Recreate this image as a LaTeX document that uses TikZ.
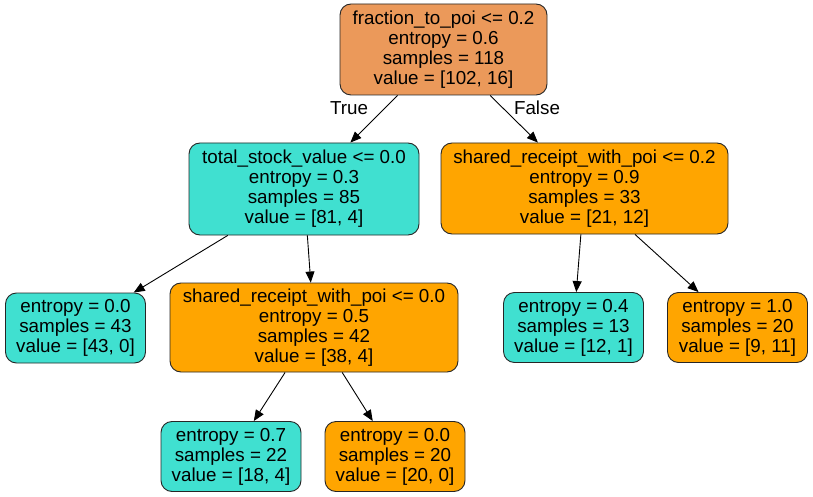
\documentclass[tikz,border=0pt]{standalone}
\usepackage{fontspec}
\setmainfont{Liberation Sans}
\usetikzlibrary{arrows.meta}
\definecolor{rootfill}{RGB}{235,153,90}
\definecolor{turq}{RGB}{64,224,208}
\definecolor{orng}{RGB}{255,165,0}
\begin{document}
\begin{tikzpicture}[x=1pt,y=-1pt,
  box/.style={draw=black!85, line width=0.9pt, rounded corners=11pt, inner sep=0pt,
    align=center, font=\fontsize{18.8}{20}\selectfont},
  leaf/.style={box, minimum width=140pt, minimum height=70pt},
  edge/.style={draw, line width=0.9pt, -{Triangle[length=11pt,width=9pt]}},
  lab/.style={font=\fontsize{18.8}{20}\selectfont, inner sep=0pt, anchor=base}
]
\useasboundingbox (0,0) rectangle (813,497);
\node[box, fill=rootfill, minimum width=207pt, minimum height=91pt] (root) at (443.5,49.5)
  {fraction\_to\_poi <= 0.2\\entropy = 0.6\\samples = 118\\value = [102, 16]};
\node[box, fill=turq, minimum width=230pt, minimum height=92pt] (l1) at (304,189)
  {total\_stock\_value <= 0.0\\entropy = 0.3\\samples = 85\\value = [81, 4]};
\node[box, fill=orng, minimum width=287pt, minimum height=91pt] (r1) at (584.5,188.5)
  {shared\_receipt\_with\_poi <= 0.2\\entropy = 0.9\\samples = 33\\value = [21, 12]};
\node[leaf, fill=turq] (ll) at (75.5,328)
  {entropy = 0.0\\samples = 43\\value = [43, 0]};
\node[box, fill=orng, minimum width=288pt, minimum height=89pt] (lr) at (314,327.5)
  {shared\_receipt\_with\_poi <= 0.0\\entropy = 0.5\\samples = 42\\value = [38, 4]};
\node[leaf, fill=turq] (rl) at (573.5,327.5)
  {entropy = 0.4\\samples = 13\\value = [12, 1]};
\node[leaf, fill=orng] (rr) at (737.5,327.5)
  {entropy = 1.0\\samples = 20\\value = [9, 11]};
\node[leaf, fill=turq] (lrl) at (231,456.5)
  {entropy = 0.7\\samples = 22\\value = [18, 4]};
\node[leaf, fill=orng] (lrr) at (395,456.5)
  {entropy = 0.0\\samples = 20\\value = [20, 0]};
\path[edge] (root) -- (l1);
\path[edge] (root) -- (r1);
\path[edge] (l1) -- (ll);
\path[edge] (l1) -- (lr);
\path[edge] (r1) -- (rl);
\path[edge] (r1) -- (rr);
\path[edge] (lr) -- (lrl);
\path[edge] (lr) -- (lrr);
\node[lab] (t) at (349,115) {True};
\node[lab] (f) at (537,115) {False};
\end{tikzpicture}
\end{document}
